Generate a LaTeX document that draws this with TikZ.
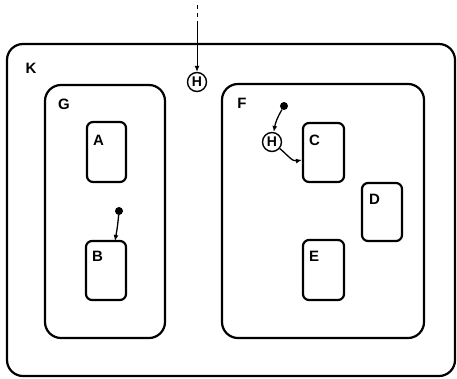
\documentclass[tikz,border=0pt]{standalone}
\usepackage{fontspec}
\setsansfont{Liberation Sans}
\usetikzlibrary{arrows.meta}
\begin{document}
\begin{tikzpicture}[x=1pt,y=-1pt,
  statebox/.style={draw,line width=2.2pt,rounded corners=#1},
  statebox/.default=6pt,
  lbl/.style={font=\sffamily\bfseries\fontsize{15}{15}\selectfont,inner sep=0pt},
  hist/.style={draw,circle,line width=1.4pt,minimum size=19pt,inner sep=0pt,font=\sffamily\bfseries\fontsize{14}{14}\selectfont},
  trans/.style={line width=1.3pt,-{Latex[length=6pt,width=5pt]}},
  dotc/.style={circle,fill,inner sep=0pt,minimum size=8pt}]
\useasboundingbox (0,0) rectangle (457,378);
% K
\draw[statebox=16pt] (7,44) rectangle (455,376);
\node[lbl] (lk) at (31,68) {K};
% G
\draw[statebox=16pt] (45,85) rectangle (165,338);
\node[lbl] (lg) at (64,104) {G};
% F
\draw[statebox=16pt] (222,84) rectangle (424,338);
\node[lbl] (lf) at (242,103) {F};
% simple states
\node[statebox,minimum width=39pt,minimum height=60pt] (A) at (106.5,152) {};
\node[lbl,anchor=north west] at (93,135) {A};
\node[statebox,minimum width=40pt,minimum height=59pt] (B) at (106,270.5) {};
\node[lbl,anchor=north west] at (92,251) {B};
\node[statebox,minimum width=41pt,minimum height=59pt] (C) at (323.5,152.5) {};
\node[lbl,anchor=north west] at (309,135) {C};
\node[statebox,minimum width=40pt,minimum height=58pt] (D) at (382,212) {};
\node[lbl,anchor=north west] at (369,194) {D};
\node[statebox,minimum width=41pt,minimum height=60pt] (E) at (323.5,270) {};
\node[lbl,anchor=north west] at (309,251) {E};
% history in K
\node[hist] (H1) at (197,82) {H};
\coordinate (src) at (197,5);
\coordinate (mid) at (197,22);
\draw[line width=1pt,dash pattern=on 4pt off 4pt] (src) -- (mid);
\draw[line width=1pt,-{Latex[length=6pt,width=5pt]}] (mid) -- (H1);
% history in F
\node[hist] (H2) at (272,142) {H};
\node[dotc] (d1) at (284,106) {};
\draw[trans] (d1) to[out=240,in=80] (H2);
\draw[trans] (H2) to[out=-40,in=190] (C.west |- 0,160);
% default in G
\node[dotc] (d2) at (119,211) {};
\draw[trans] (d2) to[out=265,in=80] (115,241);
\end{tikzpicture}
\end{document}
